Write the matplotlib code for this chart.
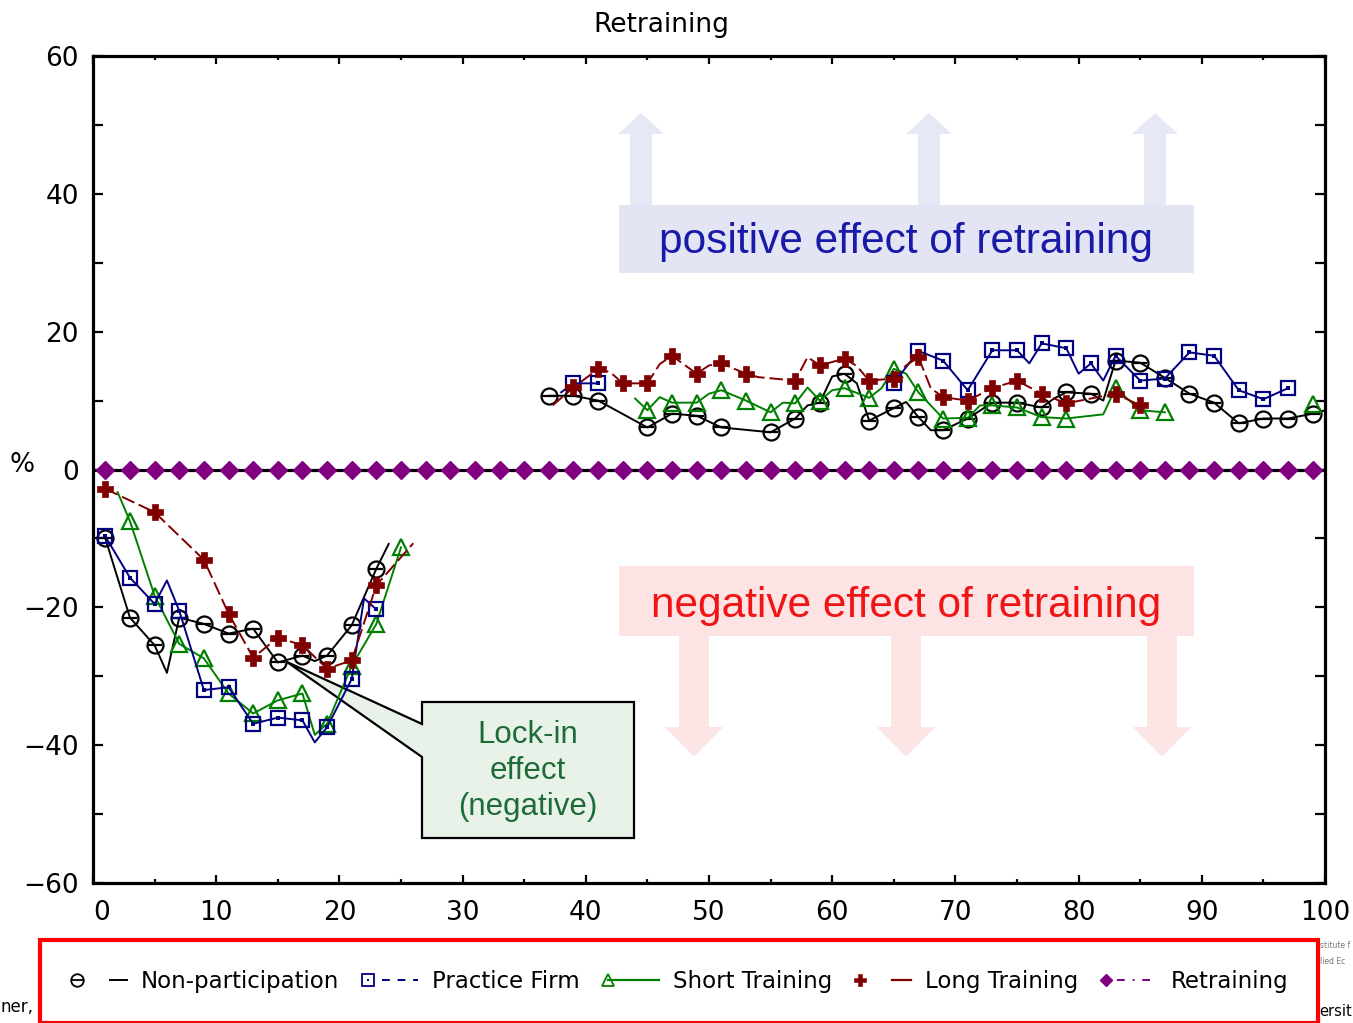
import numpy as np
import matplotlib
matplotlib.use("Agg")
import matplotlib.pyplot as plt
from matplotlib.lines import Line2D
from matplotlib.patches import Polygon
from matplotlib.legend_handler import HandlerBase

nan = np.nan

# ---------------- data (months after start, effect in %) ----------------
np_months = [1, 3, 5, 6, 7, 9, 11, 13, 15, 17, 18, 19, 21, 23, 24, nan,
             37, 39, 41, 45, 47, 49, 51, 55, 57, 58, 59, 60, 61, 62, 63, 65, 66, 67, 68, 69,
             71, 73, 75, 77, 78, 79, 81, 82, 83, 85, 87, 89, 91, 93, 95, 97, 99, 100]
np_vals = [-10, -21.5, -25.5, -29.5, -21.5, -22.4, -23.8, -23.1, -28, -27, -27.8, -27, -22.6, -14.4, -10.8, nan,
           10.7, 10.7, 10, 6.1, 8.1, 7.8, 6.1, 5.4, 7.4, 9.3, 9.7, 13.5, 13.9, 12.5, 7.1, 8.9, 9.8, 7.6, 5.7, 5.7,
           7.4, 9.7, 9.7, 9, 10.3, 11.2, 11, 10, 15.8, 15.5, 13.3, 11, 9.7, 6.7, 7.4, 7.4, 8.1, 8.6]

pf_months = [1, 3, 5, 6, 7, 9, 11, 13, 15, 17, 18, 19, 21, 22, 23, nan,
             38, 39, 41, nan,
             65, 67, 69, 71, 73, 75, 76, 77, 79, 80, 81, 82, 83, 85, 87, 89, 91, 93, 95, 97]
pf_vals = [-9.7, -15.7, -19.5, -16.1, -20.5, -32, -31.6, -36.9, -36, -36.4, -39.6, -37.4, -30.4, -18.7, -20.3, nan,
           11.2, 12.5, 12.5, nan,
           12.5, 17.2, 15.8, 11.5, 17.3, 17.3, 15.4, 18.3, 17.6, 13.9, 15.4, 12.9, 16.5, 12.9, 13.2, 17, 16.5, 11.5, 10.2, 11.8]

st_months = [2, 3, 5, 7, 9, 11, 13, 15, 17, 18, 19, 21, 23, 25, nan,
             44, 45, 46, 47, 49, 50, 51, 53, 55, 56, 57, 58, 59, 60, 61, 63, 64, 65, 66, 67,
             69, 71, 72, 73, 75, 77, 79, 82, 83, 85, 87, nan, 99]
st_vals = [-3.3, -7.5, -18.3, -25.3, -27.4, -32.5, -35.4, -33.5, -32.5, -38.5, -36.9, -28.5, -22.4, -11.3, nan,
           10.3, 8.6, 10.5, 9.7, 9.7, 11, 11.5, 10, 8.3, 9.7, 9.6, 11.9, 10, 11.5, 11.8, 10.4, 11.8, 14.6, 13.9, 11.2,
           7.4, 7.5, 9.3, 9.3, 9, 7.6, 7.4, 8, 11.8, 8.6, 8.3, nan, 9.5]

lt_months = [1, 5, 9, 11, 13, 15, 17, 19, 21, 23, 26, nan,
             37.3, 39, 41, 42, 43, 45, 46, 47, 49, 50, 51, 53, 54, 57, 58, 59, 61, 62, 63, 65,
             66, 67, 68, 69, 71, 73, 75, 77, 79, 83, 85]
lt_vals = [-2.8, -6.2, -13.1, -20.9, -27.3, -24.4, -25.5, -28.9, -27.7, -16.8, -10.7, nan,
           9.3, 11.9, 14.6, 14.1, 12.5, 12.5, 15.3, 16.5, 13.9, 15.1, 15.4, 13.9, 13.4, 12.9, 16.3, 15.1, 16.1, 15, 12.9, 13.2,
           15.1, 16.3, 11.8, 10.5, 10, 11.8, 12.9, 11, 9.6, 11, 9.3]

rt_months = list(range(1, 100, 2))
rt_vals = [0.0] * len(rt_months)

labels = ["Non-participation", "Practice Firm", "Short Training", "Long Training", "Retraining"]
x_ticks = list(range(0, 101, 10))
y_ticks = list(range(-60, 61, 20))

# ---------------- layout helpers ----------------
W, H = 1353, 1023
AX_L, AX_R, AX_T, AX_B = 93, 1325, 56, 883

def af(px, py):
    return ((px - AX_L) / (AX_R - AX_L), (AX_B - py) / (AX_B - AX_T))

def odd_marks(xs):
    return [i for i, v in enumerate(xs)
            if not np.isnan(v) and float(v).is_integer() and int(v) % 2 == 1]

plt.rcParams["font.family"] = ["DejaVu Sans"]

fig = plt.figure(figsize=(W / 100, H / 100), dpi=100)
ax = fig.add_axes([AX_L / W, 1 - AX_B / H, (AX_R - AX_L) / W, (AX_B - AX_T) / H])

BLACK, NAVY, GREEN, DRED, PURPLE = "#000000", "#000080", "#008000", "#800000", "#800080"
LW, MEW = 1.4, 1.6

# ---------------- background annotations ----------------
POS_FILL, POS_TXT = "#E3E5F5", "#1A1AA8"
NEG_FILL, NEG_TXT = "#FDE3E3", "#F01414"

for c in (641, 929, 1155):
    pts = [(c - 11, 205), (c - 11, 134), (c - 23, 134), (c, 113), (c + 23, 134), (c + 11, 134), (c + 11, 205)]
    ax.add_patch(Polygon([af(*p) for p in pts], closed=True, transform=ax.transAxes,
                         facecolor="#E6E8F6", edgecolor="none", zorder=1))
for c in (694, 906, 1162):
    pts = [(c - 15, 636), (c - 15, 727), (c - 29, 727), (c, 757), (c + 29, 727), (c + 15, 727), (c + 15, 636)]
    ax.add_patch(Polygon([af(*p) for p in pts], closed=True, transform=ax.transAxes,
                         facecolor="#FCE5E5", edgecolor="none", zorder=1))

box = [(619, 205), (1194, 205), (1194, 273), (619, 273)]
ax.add_patch(Polygon([af(*p) for p in box], closed=True, transform=ax.transAxes,
                     facecolor=POS_FILL, edgecolor="none", zorder=1))
box = [(619, 566), (1194, 566), (1194, 636), (619, 636)]
ax.add_patch(Polygon([af(*p) for p in box], closed=True, transform=ax.transAxes,
                     facecolor=NEG_FILL, edgecolor="none", zorder=1))

ax.text(*af(906, 242), "positive effect of retraining", transform=ax.transAxes,
        ha="center", va="center", fontsize=30.5, color=POS_TXT,
        family=["Liberation Sans", "DejaVu Sans"], zorder=1.2)
ax.text(*af(906, 606), "negative effect of retraining", transform=ax.transAxes,
        ha="center", va="center", fontsize=30.5, color=NEG_TXT,
        family=["Liberation Sans", "DejaVu Sans"], zorder=1.2)

# callout
call = [(422, 702), (634, 702), (634, 838), (422, 838), (422, 757), (287, 662), (422, 724)]
ax.add_patch(Polygon([af(*p) for p in call], closed=True, transform=ax.transAxes,
                     facecolor="#E8F2E8", edgecolor="black", linewidth=1.6, zorder=1.5,
                     joinstyle="miter"))
ax.text(*af(528, 771), "Lock-in\neffect\n(negative)", transform=ax.transAxes,
        ha="center", va="center", multialignment="center", fontsize=22.5, color="#1E6B3A",
        family=["Liberation Sans", "DejaVu Sans"], linespacing=1.28, zorder=1.6)

# ---------------- series ----------------
# Retraining (zero line)
ax.plot(rt_months, rt_vals, color=PURPLE, linestyle="-.", linewidth=LW, zorder=2)
ax.axhline(0, color="black", linewidth=2.3, zorder=2.5)
ax.plot(rt_months, rt_vals, linestyle="none", marker="D", markersize=9,
        markerfacecolor=PURPLE, markeredgecolor=PURPLE, zorder=3)

# Non-participation
me = odd_marks(np_months)
h_np, = ax.plot(np_months, np_vals, color=BLACK, linewidth=LW, marker="o", markersize=11.5,
                markerfacecolor="none", markeredgecolor=BLACK, markeredgewidth=MEW,
                markevery=me, zorder=3)
ax.plot(np_months, np_vals, linestyle="none", marker="_", markersize=9.5, markeredgewidth=MEW,
        color=BLACK, markevery=me, zorder=3)

# Practice firm
me = odd_marks(pf_months)
h_pf, = ax.plot(pf_months, pf_vals, color=NAVY, linewidth=LW, marker="s", markersize=10.5,
                markerfacecolor="none", markeredgecolor=NAVY, markeredgewidth=MEW,
                markevery=me, zorder=3.2)
ax.plot(pf_months, pf_vals, linestyle="none", marker="s", markersize=2.5, markeredgewidth=0,
        color=NAVY, markevery=me, zorder=3.2)

# Short training
me = odd_marks(st_months)
h_st, = ax.plot(st_months, st_vals, color=GREEN, linewidth=LW, marker="^", markersize=11.5,
                markerfacecolor="none", markeredgecolor=GREEN, markeredgewidth=MEW,
                markevery=me, zorder=3.1)

# Long training
me = odd_marks(lt_months)
h_lt, = ax.plot(lt_months, lt_vals, color=DRED, linewidth=LW, linestyle=(0, (7, 2.5)),
                marker="P", markersize=11.5, markerfacecolor=DRED, markeredgecolor=DRED,
                markeredgewidth=0.5, markevery=me, zorder=3.3)

# ---------------- axes styling ----------------
ax.set_xlim(0, 100)
ax.set_ylim(-60, 60)
ax.set_xticks(x_ticks)
ax.set_xticks(list(range(5, 100, 10)), minor=True)
ax.set_yticks(y_ticks)
ax.set_yticks(list(range(-50, 60, 20)), minor=True)
ax.set_xticklabels([str(t) for t in x_ticks])
ax.set_yticklabels([str(t).replace("-", "\u2212") for t in y_ticks])
for sp in ax.spines.values():
    sp.set_linewidth(2.3)
ax.tick_params(axis="x", which="major", direction="in", length=5.5, width=1.6,
               top=True, bottom=True, labelsize=19, pad=12)
ax.tick_params(axis="x", which="minor", direction="in", length=3, width=1.6, top=True, bottom=True)
ax.tick_params(axis="y", which="both", direction="in", length=7.5, width=1.6,
               left=True, right=True, labelsize=19, pad=10)
xl = ax.get_xticklabels()
xl[0].set_horizontalalignment("left")

fig.text(661 / W, 1 - 25 / H, "Retraining", ha="center", va="center", fontsize=19)
fig.text(22 / W, 1 - 465 / H, "%", ha="center", va="center", fontsize=19)

# ---------------- legend ----------------
class HandlerMarkLine(HandlerBase):
    def __init__(self, markers, line_kw, line_start=0.42):
        super().__init__()
        self.markers = markers
        self.line_kw = line_kw
        self.line_start = line_start

    def create_artists(self, legend, orig_handle, xdescent, ydescent, width, height, fontsize, trans):
        y = height / 2 - ydescent
        x0 = -xdescent
        arts = []
        ln = Line2D([x0 + self.line_start * width, x0 + width], [y, y], **self.line_kw)
        ln.set_transform(trans)
        arts.append(ln)
        for kw in self.markers:
            m = Line2D([x0 + 0.12 * width], [y], linestyle="none", **kw)
            m.set_transform(trans)
            arts.append(m)
        return arts

hmap = {
    h_np: HandlerMarkLine(
        [dict(marker="o", markersize=9, markerfacecolor="none", markeredgecolor=BLACK, markeredgewidth=1.3),
         dict(marker="_", markersize=8, color=BLACK, markeredgewidth=1.3)],
        dict(color=BLACK, linewidth=1.4), 0.7),
    h_pf: HandlerMarkLine(
        [dict(marker="s", markersize=8, markerfacecolor="none", markeredgecolor=NAVY, markeredgewidth=1.3),
         dict(marker="s", markersize=2, markeredgewidth=0, color=NAVY)],
        dict(color=NAVY, linewidth=1.4, linestyle=(0, (4, 4))), 0.36),
    h_st: HandlerMarkLine(
        [dict(marker="^", markersize=9, markerfacecolor="none", markeredgecolor=GREEN, markeredgewidth=1.3)],
        dict(color=GREEN, linewidth=1.6), 0.12),
    h_lt: HandlerMarkLine(
        [dict(marker="P", markersize=9, color=DRED, markeredgewidth=0.4)],
        dict(color=DRED, linewidth=1.6), 0.68),
}
h_rt = Line2D([], [], color=PURPLE)
hmap[h_rt] = HandlerMarkLine(
    [dict(marker="D", markersize=6.5, color=PURPLE)],
    dict(color=PURPLE, linewidth=1.4, linestyle=(0, (4, 4, 1, 4))), 0.3)

leg = fig.legend([h_np, h_pf, h_st, h_lt, h_rt], labels, handler_map=hmap,
                 loc="upper left", bbox_to_anchor=(40 / W, 0, 1278 / W, 1 - 940 / H),
                 bbox_transform=fig.transFigure, mode="expand", ncol=5, fontsize=16.5,
                 handlelength=2.5, handletextpad=0.6, borderpad=1.3, borderaxespad=0,
                 frameon=True, fancybox=False, framealpha=1, columnspacing=0.5)
fr = leg.get_frame()
fr.set_edgecolor("#FF0000")
fr.set_linewidth(3)

# cut-off slide text at the edges
fig.text(0.0, 1 - 1007 / H, "ner,", ha="left", va="center", fontsize=12)
fig.text(1319 / W, 1 - 1012 / H, "ersit", ha="left", va="center", fontsize=10.5)
fig.text(1320 / W, 1 - 946 / H, "stitute f", ha="left", va="center", fontsize=5.5, color="#777777")
fig.text(1320 / W, 1 - 962 / H, "lied Ec", ha="left", va="center", fontsize=5.5, color="#777777")

fig.savefig("out.png", dpi=100)
